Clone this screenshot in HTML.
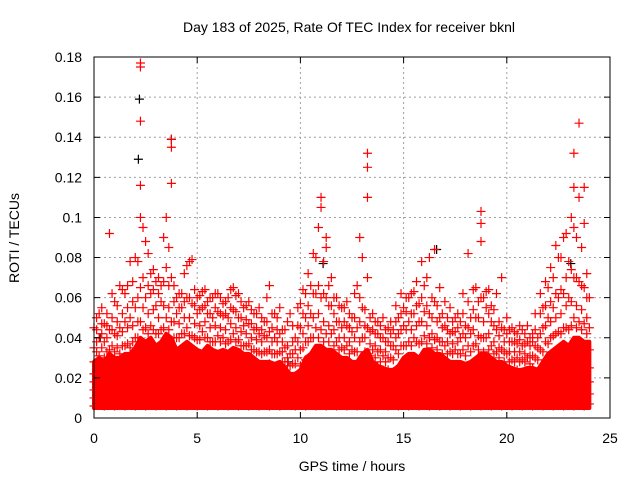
<!DOCTYPE html>
<html><head><meta charset="utf-8">
<style>
html,body{margin:0;padding:0;background:#fff;}
svg{display:block;font-family:"Liberation Sans",sans-serif;}
</style></head>
<body>
<svg id="chart" width="640" height="480">
<text x="349" y="32" font-size="14" text-anchor="middle" fill="#000">Day 183 of 2025, Rate Of TEC Index for receiver bknl</text>
<text x="352" y="471" font-size="14" text-anchor="middle" fill="#000">GPS time / hours</text>
<text x="19" y="238" font-size="14" text-anchor="middle" fill="#000" transform="rotate(-90 19 238)">ROTI / TECUs</text>
<g id="grid"></g>
<g id="marks"></g>
<g id="axes"></g>
</svg>
<script>
const xTicks = [0,5,10,15,20,25];
const yTicks = [0,0.02,0.04,0.06,0.08,0.1,0.12,0.14,0.16,0.18];
const yTickLabels = ["0","0.02","0.04","0.06","0.08","0.1","0.12","0.14","0.16","0.18"];
const colTimes = [0,0.25,0.5,0.75,1,1.25,1.5,1.75,2,2.25,2.5,2.75,3,3.25,3.5,3.75,4,4.25,4.5,4.75,5,5.25,5.5,5.75,6,6.25,6.5,6.75,7,7.25,7.5,7.75,8,8.25,8.5,8.75,9,9.25,9.5,9.75,10,10.25,10.5,10.75,11,11.25,11.5,11.75,12,12.25,12.5,12.75,13,13.25,13.5,13.75,14,14.25,14.5,14.75,15,15.25,15.5,15.75,16,16.25,16.5,16.75,17,17.25,17.5,17.75,18,18.25,18.5,18.75,19,19.25,19.5,19.75,20,20.25,20.5,20.75,21,21.25,21.5,21.75,22,22.25,22.5,22.75,23,23.25,23.5,23.75,24];
const midTimes = [0.125,0.375,0.625,0.875,1.125,1.375,1.625,1.875,2.125,2.375,2.625,2.875,3.125,3.375,3.625,3.875,4.125,4.375,4.625,4.875,5.125,5.375,5.625,5.875,6.125,6.375,6.625,6.875,7.125,7.375,7.625,7.875,8.125,8.375,8.625,8.875,9.125,9.375,9.625,9.875,10.125,10.375,10.625,10.875,11.125,11.375,11.625,11.875,12.125,12.375,12.625,12.875,13.125,13.375,13.625,13.875,14.125,14.375,14.625,14.875,15.125,15.375,15.625,15.875,16.125,16.375,16.625,16.875,17.125,17.375,17.625,17.875,18.125,18.375,18.625,18.875,19.125,19.375,19.625,19.875,20.125,20.375,20.625,20.875,21.125,21.375,21.625,21.875,22.125,22.375,22.625,22.875,23.125,23.375,23.625,23.875];
// overplotted (saturated) region per column, milli-TECU/min
const denseBottom = 5;
const denseTop = [28,30,28,32,30,30,32,32,35,
40,38,40,36,38,42,40,34,
36,38,36,34,33,36,34,33,
34,33,35,34,32,32,30,28,
28,28,27,28,25,22,22,24,
30,32,36,36,34,34,32,30,
30,28,28,32,34,28,26,25,
24,24,26,30,32,32,30,34,
34,32,32,30,28,28,28,27,
28,30,32,32,30,28,28,26,
25,24,24,25,25,24,28,32,
34,36,38,36,40,40,38,38];
// ROTI values per time column, in milli-TECU/min
const colValues = [
[6,10,14,18,22,28,35,45],[7,11,15,20,25,31,40,52],[6,10,14,19,24,30,38,47],[7,12,16,21,27,34,44,92],
[6,11,15,20,26,33,42,58],[7,10,14,19,25,32,45,66],[6,12,16,22,28,36,48,62],[7,11,15,21,27,35,50,78],
[6,10,16,22,30,40,55,80],[7,12,18,26,35,48,65,100,116,148,177,175],[6,11,17,24,33,45,60,88],[7,12,18,25,34,46,62,72],
[6,10,16,23,31,42,56,68],[7,11,17,24,33,44,58,66],[6,12,18,26,36,50,75,100],[7,11,17,25,34,48,70,117,135,139],
[6,10,15,22,30,40,52,60],[7,11,16,23,31,42,55,62],[6,12,17,24,33,45,60,76],[7,11,16,22,30,41,57,79],
[6,10,15,21,29,39,52,60],[7,12,17,24,32,43,55,63],[6,11,16,22,30,40,52,58],[7,10,15,21,29,38,50,60],
[6,12,17,23,31,41,53,62],[7,11,16,22,30,40,51,57],[6,10,15,21,28,38,50,60],[7,12,17,23,31,42,54,65],
[6,11,16,22,29,39,50,62],[7,10,15,20,27,36,46,55],[6,12,16,21,28,37,47,58],[7,11,15,20,26,34,44,52],
[6,10,14,19,25,33,42,55],[7,11,15,20,26,33,41,48],[6,12,16,21,27,34,43,66],[7,10,14,19,25,32,40,52],
[6,11,15,20,26,33,42,55],[7,10,14,18,23,28,35,44],[7,11,14,17,21,26,32,52],[6,10,13,17,21,27,34,40],
[7,11,15,20,26,34,45,57],[6,12,16,22,29,38,50,62],[7,11,16,22,30,40,52,66],[6,12,17,24,33,45,62,80],
[7,11,16,23,32,44,60,105,110],[6,10,15,21,30,42,60,85,90],[7,12,17,23,31,42,56,70],[6,11,16,22,29,38,48,60],
[7,10,15,20,27,35,45,55],[6,12,16,21,28,36,46,58],[7,11,15,20,26,34,43,50],[6,10,14,19,25,33,45,66],
[7,12,16,22,30,40,55,80],[6,11,16,23,32,45,70,110,125,132],[7,10,14,19,26,34,44,52],[6,11,15,20,26,33,42,48],
[7,10,14,18,24,31,40,50],[6,12,15,19,24,30,38,45],[7,11,14,18,23,29,36,44],[6,10,14,19,25,32,42,50],
[7,11,15,21,28,36,46,55],[6,12,16,22,29,38,48,60],[7,11,16,22,30,40,52,63],[6,10,15,21,28,37,48,57],
[7,12,17,23,31,41,53,66],[6,11,16,22,30,40,52,80],[7,10,15,21,29,39,58,84],[6,12,16,22,29,38,50,65],
[7,11,15,20,27,36,46,58],[6,10,14,19,25,33,42,55],[7,12,15,20,26,34,43,50],[6,11,14,19,25,32,40,48],
[7,10,14,19,24,31,40,46],[6,12,15,20,26,33,42,50],[7,11,15,21,28,37,50,65],[6,10,15,21,29,40,60,88,97,103],
[7,12,16,22,30,40,55,63],[6,11,15,20,27,36,48,56],[7,10,14,19,25,33,44,62],[6,12,15,20,26,34,45,70],
[7,11,15,19,25,32,42,50],[6,10,14,18,23,29,38,45],[7,12,15,19,24,30,37,42],[6,11,14,18,23,29,36,44],
[7,10,14,18,23,30,38,46],[6,12,15,19,25,31,38,42],[7,11,14,18,23,29,35,40],[6,10,14,19,25,33,45,55],
[7,12,16,21,28,37,50,65],[6,11,16,22,30,41,55,70],[7,10,15,22,31,43,60,80],[6,12,17,24,33,45,62,90],
[7,11,16,23,32,44,60,78],[6,12,18,26,36,50,70,95,115,132],[7,11,17,25,35,48,68,147,110],[6,10,16,24,34,47,65,97,115],
[7,12,18,25,34,45,60]
];
const midValues = [
[33,38,44,50],[35,42,47,55],[33,40,46,52],[36,44,50,62],[35,41,48,56],[36,43,52,64],[37,45,55,66],[38,46,58,68],
[40,48,60,78],[44,55,70,95],[42,52,66,82],[44,54,64,74],[42,50,62,70],[45,56,68,90],[44,55,66,85],[40,48,58,66],
[40,47,55,62],[42,50,58,72],[41,50,60,78],[40,47,56,64],[39,46,54,61],[40,48,56,64],[38,45,52,60],[38,46,55,62],
[38,45,52,60],[37,44,52,58],[39,47,55,64],[38,45,53,61],[36,43,50,58],[36,42,49,56],[34,40,47,54],[33,39,45,52],
[32,38,44,50],[33,40,48,60],[32,38,45,52],[32,38,44,50],[28,33,38,44],[26,30,36,48],[27,32,38,46],[30,38,46,55],
[35,42,52,64],[38,46,56,72],[40,50,62,82],[40,52,66,95],[38,48,62,78],[38,46,56,66],[36,44,52,60],[34,40,48,56],
[34,40,48,55],[32,38,45,52],[33,40,50,62],[38,48,60,90],[33,40,46,54],[31,37,43,50],[30,36,42,48],[28,34,40,46],
[28,33,38,44],[30,36,42,48],[34,40,48,56],[36,44,52,62],[36,44,53,60],[36,44,52,62],[38,46,56,68],[38,48,60,78],
[37,46,56,70],[35,42,50,60],[34,40,48,56],[32,38,45,52],[32,38,44,50],[32,37,43,48],[32,38,45,52],[34,42,52,62],
[36,45,58,82],[36,44,54,64],[34,41,50,58],[33,40,48,60],[34,42,52,64],[32,38,46,54],[30,35,41,48],[28,33,38,44],
[28,33,38,44],[28,33,38,43],[28,33,39,46],[28,32,37,42],[27,31,36,40],[30,36,44,52],[34,42,52,62],[38,46,56,68],
[40,48,58,75],[42,50,62,86],[42,52,64,80],[45,56,70,92],[46,58,74,100],[45,56,70,90],[44,54,66,85],[42,50,60,72]
];
const blackTimes = [2.2,2.15,3.75,11.1,16.6,23.1,0.3,9.4];
const blackValues = [159,129,139,77,84,77,40,28];

const L=94,R=610,T=57,B=418;
function xs(t){return L+(t/25)*(R-L);}
function ys(v){return B-(v/0.18)*(B-T);}
const NS="http://www.w3.org/2000/svg";
const grid=document.getElementById('grid'),marks=document.getElementById('marks'),axes=document.getElementById('axes');
function mk(tag,attrs,parent){const e=document.createElementNS(NS,tag);for(const k in attrs)e.setAttribute(k,attrs[k]);parent.appendChild(e);return e;}

yTicks.forEach((v,i)=>{
  const y=ys(v);
  if(i>0&&i<yTicks.length-1){
    const g=mk('line',{x1:L,x2:R,y1:y,y2:y,stroke:'#a0a0a0','stroke-dasharray':'2,3','stroke-width':1},grid);
    
    
  }
  const tk=mk('path',{d:`M${L},${y}h6M${R},${y}h-6`,stroke:'#000','stroke-width':1},axes);
  
  
  const tx=mk('text',{x:L-12,y:y+5,'font-size':14,'text-anchor':'end',fill:'#000'},axes);
  tx.textContent=yTickLabels[i];
  
  
});
xTicks.forEach((t,i)=>{
  const x=xs(t);
  if(i>0&&i<xTicks.length-1){
    const g=mk('line',{x1:x,x2:x,y1:T,y2:B,stroke:'#a0a0a0','stroke-dasharray':'2,3','stroke-width':1},grid);
    
    
  }
  const tk=mk('path',{d:`M${x},${B}v-6M${x},${T}v6`,stroke:'#000','stroke-width':1},axes);
  
  
  const tx=mk('text',{x:x,y:B+25,'font-size':14,'text-anchor':'middle',fill:'#000'},axes);
  tx.textContent=String(t);
  
  
});
const frame=mk('rect',{x:L,y:T,width:R-L,height:B-T,fill:'none',stroke:'#000','stroke-width':1},axes);



// saturated overplot region
let d='';
colTimes.forEach((t,i)=>{d+=(i?'L':'M')+xs(t)+','+ys(denseTop[i]/1000);});
for(let i=colTimes.length-1;i>=0;i--){d+='L'+xs(colTimes[i])+','+ys(denseBottom/1000);}
d+='Z';
const band=mk('path',{d:d,fill:'#ff0000',stroke:'#ff0000','stroke-width':4,'stroke-linejoin':'round'},marks);



function plus(x,y,color,name){
  const p=mk('path',{d:`M${x-4.5},${y}h9M${x},${y-4.5}v9`,stroke:color,'stroke-width':1.2,fill:'none'},marks);
  
  
}
blackTimes.forEach((t,i)=>plus(xs(t),ys(blackValues[i]/1000),'#000','roti-point-black'));
colTimes.forEach((t,i)=>{
  colValues[i].forEach(v=>plus(xs(t),ys(v/1000),'#ff0000','roti-point'));
});
midTimes.forEach((t,i)=>{
  midValues[i].forEach(v=>plus(xs(t),ys(v/1000),'#ff0000','roti-point'));
});
</script>
</body></html>
